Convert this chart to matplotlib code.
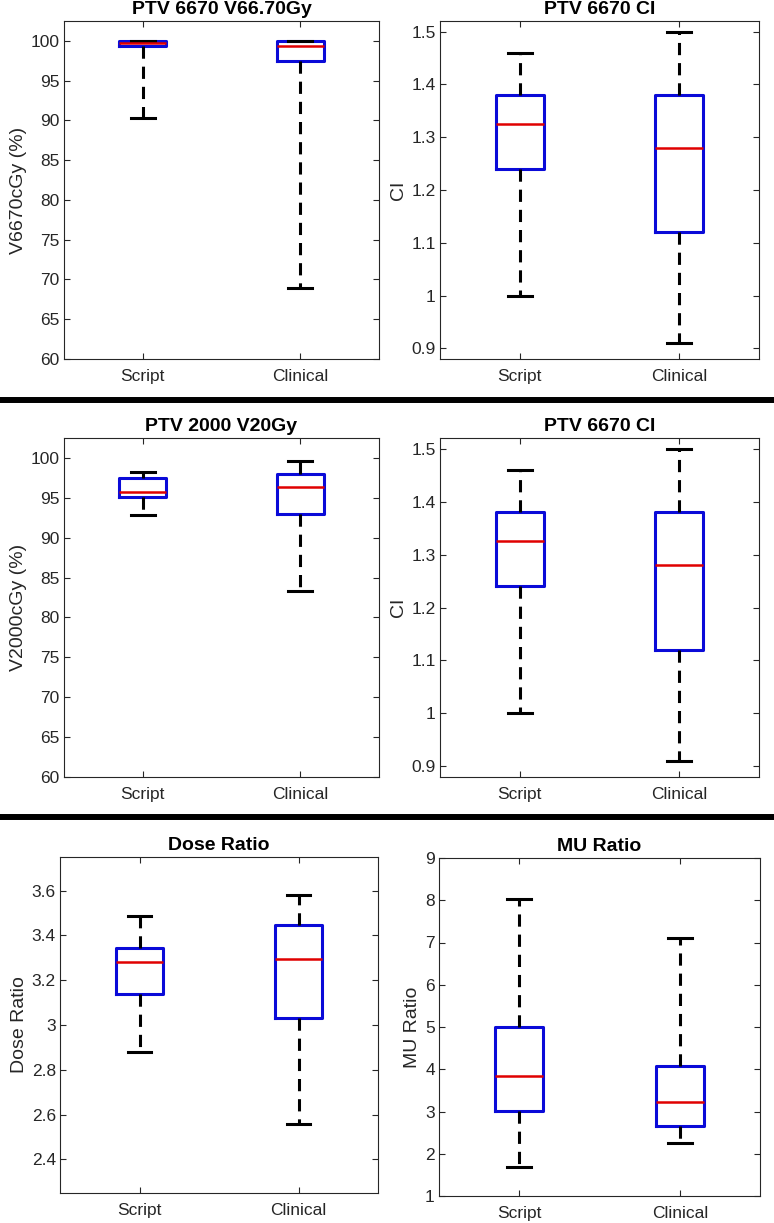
import matplotlib
matplotlib.use("Agg")
import matplotlib.pyplot as plt
from matplotlib.lines import Line2D
from matplotlib.ticker import FormatStrFormatter

plt.rcParams['font.family'] = ['Liberation Sans', 'DejaVu Sans']

W, H = 774, 1223
groups = ["Script", "Clinical"]

# each row: whisker low, q1, median, q3, whisker high
v6670_script = [90.3, 99.3, 99.7, 100.0, 100.0]
v6670_clinical = [68.9, 97.5, 99.4, 100.0, 100.0]

ci_script = [1.00, 1.24, 1.325, 1.38, 1.46]
ci_clinical = [0.91, 1.12, 1.28, 1.38, 1.50]

v2000_script = [92.9, 95.1, 95.7, 97.5, 98.2]
v2000_clinical = [83.3, 93.0, 96.4, 98.0, 99.6]

dose_script = [2.88, 3.14, 3.28, 3.345, 3.485]
dose_clinical = [2.56, 3.03, 3.295, 3.445, 3.58]

mu_script = [1.68, 3.01, 3.85, 5.01, 8.03]
mu_clinical = [2.25, 2.65, 3.22, 4.07, 7.10]

BLUE = "#0a0ad8"
RED = "#e00000"
GREY = "#262626"


def draw_box(rect, rows, title, ylabel, ylim, yticks, fmt):
    l, t, r, b = rect
    ax = fig.add_axes([l / W, 1 - b / H, (r - l) / W, (b - t) / H])
    stats = []
    for name, row in zip(groups, rows):
        stats.append(dict(label=name, whislo=row[0], q1=row[1], med=row[2],
                          q3=row[3], whishi=row[4], fliers=[]))
    ax.bxp(stats, positions=[1, 2], widths=0.3, capwidths=0.15, showfliers=False,
           boxprops=dict(color=BLUE, lw=2.2),
           medianprops=dict(color=RED, lw=1.8),
           whiskerprops=dict(color="k", lw=2.2, ls=(0, (4, 2.6))),
           capprops=dict(color="k", lw=2.2))
    ax.set_xlim(0.5, 2.5)
    ax.set_ylim(*ylim)
    ax.set_yticks(yticks)
    ax.yaxis.set_major_formatter(FormatStrFormatter(fmt))
    ax.tick_params(direction="in", top=True, right=True, length=4, width=0.8,
                   color=GREY, labelcolor=GREY, labelsize=12.5)
    ax.tick_params(axis="x", pad=7)
    ax.tick_params(axis="y", pad=3)
    for s in ax.spines.values():
        s.set_color(GREY)
        s.set_linewidth(0.8)
    ax.set_title(title, fontsize=14, fontweight="bold", pad=5)
    ax.set_ylabel(ylabel, fontsize=14, color=GREY, labelpad=3)
    return ax


fig = plt.figure(figsize=(W / 100, H / 100), dpi=100)

draw_box((64, 21, 379, 359), [v6670_script, v6670_clinical], "PTV 6670 V66.70Gy",
         "V6670cGy (%)", (60, 102.5), range(60, 101, 5), "%g")
draw_box((440, 21, 759, 359), [ci_script, ci_clinical], "PTV 6670 CI",
         "CI", (0.88, 1.52), [0.9, 1.0, 1.1, 1.2, 1.3, 1.4, 1.5], "%g")
draw_box((64, 438, 379, 777), [v2000_script, v2000_clinical], "PTV 2000 V20Gy",
         "V2000cGy (%)", (60, 102.5), range(60, 101, 5), "%g")
draw_box((440, 438, 759, 777), [ci_script, ci_clinical], "PTV 6670 CI",
         "CI", (0.88, 1.52), [0.9, 1.0, 1.1, 1.2, 1.3, 1.4, 1.5], "%g")
draw_box((60, 857, 378, 1193), [dose_script, dose_clinical], "Dose Ratio",
         "Dose Ratio", (2.25, 3.75), [2.4, 2.6, 2.8, 3.0, 3.2, 3.4, 3.6], "%g")
draw_box((439, 858, 760, 1196), [mu_script, mu_clinical], "MU Ratio",
         "MU Ratio", (1, 9), range(1, 10), "%g")

# thick separators between rows
for yy in (399.5, 816.5):
    fig.add_artist(Line2D([0, 1], [1 - yy / H] * 2, lw=4.3, color="k",
                          transform=fig.transFigure))

fig.savefig("out.png", dpi=100)
